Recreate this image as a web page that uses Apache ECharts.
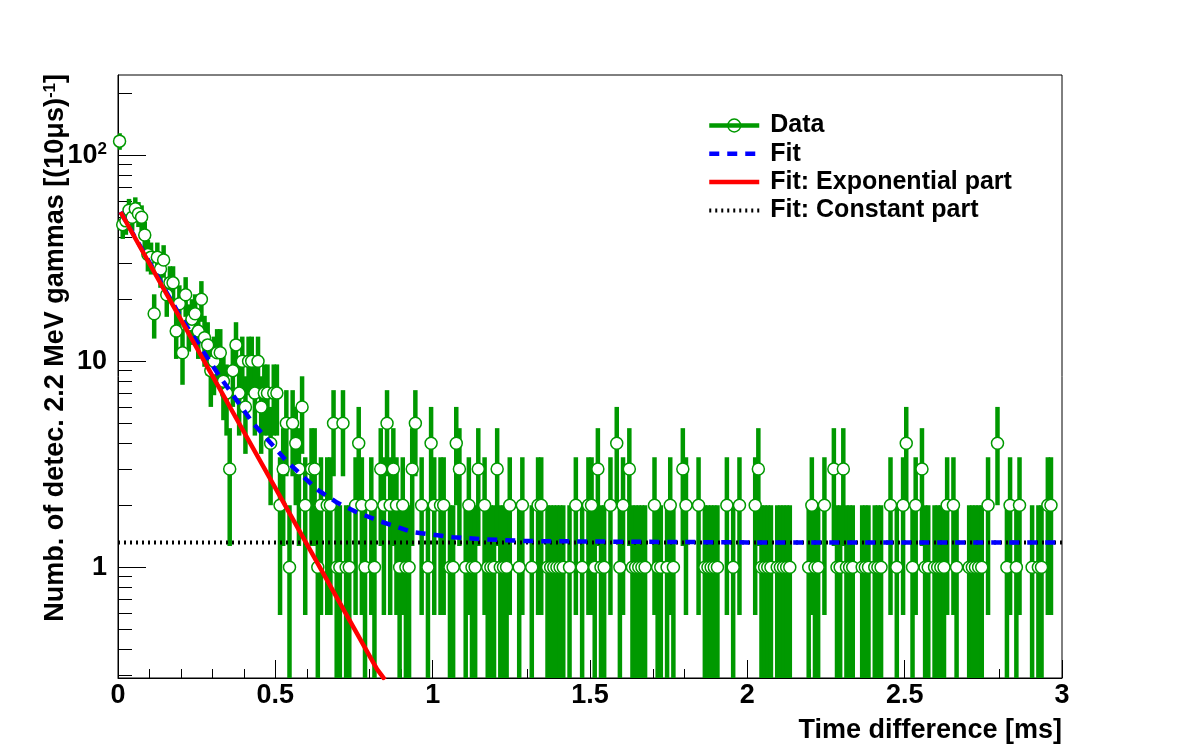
<!DOCTYPE html>
<html>
<head>
<meta charset="utf-8">
<script src="https://cdn.jsdelivr.net/npm/echarts@6/dist/echarts.min.js"></script>
<style>
  html, body { margin: 0; padding: 0; background: #fff; }
  #chart { width: 1182px; height: 755px; }
</style>
</head>
<body>
<div id="chart"></div>
<script>
// Time-difference histogram: counts per 10 us bin from 0 to 3 ms (300 bins).
const binWidth = 0.01;
const counts = [
  117, 46, 48, 54, 50, 55, 52, 50, 41, 33, 32, 17, 32, 28, 31, 21, 24, 24, 14, 19, 11, 21, 15, 16, 17,
  14, 20, 13, 12, 9, 10, 11, 11, 8, 7, 3, 9, 12, 7, 10, 6, 10, 10, 7, 10, 6, 7, 7, 4, 7,
  7, 2, 3, 5, 1, 5, 4, 3, 6, 2, 0, 3, 3, 1, 2, 0, 2, 2, 5, 1, 1, 5, 1, 1, 0,
  2, 4, 2, 1, 0, 2, 1, 0, 3, 2, 5, 2, 3, 2, 1, 2, 1, 1, 3, 5, 0, 2, 0, 1, 4,
  2, 0, 2, 2, 0, 1, 1, 4, 3, 0, 1, 2, 1, 1, 3, 0, 2, 1, 1, 1, 3, 1, 1, 1, 2,
  0, 0, 1, 2, 0, 0, 1, 0, 2, 2, 0, 1, 1, 1, 1, 1, 1, 0, 1, 0, 2, 0, 1, 0, 2,
  2, 1, 3, 1, 1, 0, 2, 0, 4, 1, 2, 0, 3, 1, 1, 1, 1, 1, 0, 0, 2, 1, 1, 0, 1,
  2, 1, 0, 0, 3, 2, 0, 0, 0, 2, 0, 1, 1, 1, 1, 1, 0, 0, 2, 0, 1, 0, 2, 0, 0,
  0, 0, 2, 3, 1, 1, 1, 1, 0, 1, 1, 1, 1, 1, 0, 0, 0, 0, 0, 1, 2, 1, 1, 0, 2,
  0, 0, 3, 1, 1, 3, 1, 1, 1, 0, 0, 1, 1, 1, 0, 1, 1, 1, 0, 0, 2, 0, 1, 0, 2,
  4, 0, 1, 2, 0, 3, 1, 1, 0, 1, 1, 1, 1, 2, 0, 2, 1, 0, 0, 0, 1, 1, 1, 1, 1,
  0, 2, 0, 0, 4, 0, 0, 1, 2, 0, 1, 2, 0, 0, 0, 1, 0, 1, 1, 0, 2, 2, 0, 0, 0
];

// Total fit (exponential + constant).
const fitT = [0.008, 0.1, 0.2, 0.324, 0.429, 0.499, 0.537, 0.632, 0.696, 0.759, 0.833, 0.937, 1.064, 1.15, 1.3, 1.6, 2.0, 3.0];
const fitV = [53, 30.2, 16.3, 8.4, 5.0, 3.8, 3.26, 2.39, 2.06, 1.85, 1.67, 1.48, 1.40, 1.37, 1.34, 1.33, 1.32, 1.32];
// Exponential part (straight on the log scale).
const expT = [0.008, 0.823, 0.848];
const expV = [53, 0.32, 0.285];
// Constant part.
const constT = [0, 3];
const constV = [1.32, 1.32];

const xTicks = [0, 0.5, 1, 1.5, 2, 2.5, 3];
const yMajor = [1, 10, 100];
const yMinor = [0.3, 0.4, 0.5, 0.6, 0.7, 0.8, 0.9, 2, 3, 4, 5, 6, 7, 8, 9,
                20, 30, 40, 50, 60, 70, 80, 90, 200];
const Y_MIN = 0.29, Y_MAX = 245;

const GREEN = '#009900';
const FONT = '"Liberation Sans", Arial, Helvetica, sans-serif';

const zip = (a, b) => a.map((v, i) => [v, b[i]]);
const points = counts
  .map((n, i) => [(i + 0.5) * binWidth, n])
  .filter(p => p[1] > 0);   // empty bins are not drawn on a log axis

function renderErr(params, api) {
  const x = api.value(0), n = api.value(1);
  const e = Math.sqrt(n);
  const lo = api.coord([x, Math.max(n - e, Y_MIN)]);
  const hi = api.coord([x, Math.min(n + e, Y_MAX)]);
  const l = api.coord([x - binWidth / 2, n]);
  const r = api.coord([x + binWidth / 2, n]);
  const st = { stroke: GREEN, lineWidth: 4.5 };
  return {
    type: 'group',
    children: [
      { type: 'line', shape: { x1: lo[0], y1: lo[1], x2: hi[0], y2: hi[1] }, style: st },
      { type: 'line', shape: { x1: l[0], y1: l[1], x2: r[0], y2: r[1] }, style: st }
    ]
  };
}

const labelStyle = { fontFamily: FONT, fontWeight: 'bold', fontSize: 27, color: '#000' };
const noSymbol = { opacity: 0 };

const chart = echarts.init(document.getElementById('chart'), null, { renderer: 'canvas' });
chart.setOption({
  animation: false,
  backgroundColor: '#fff',
  grid: { left: 118, right: 120, top: 75, bottom: 77, show: true, borderColor: '#000', borderWidth: 1 },
  legend: {
    data: [
      { name: 'Data', itemStyle: { color: 'transparent', borderColor: GREEN, borderWidth: 1.5 } },
      { name: 'Fit', itemStyle: noSymbol },
      { name: 'Fit: Exponential part', itemStyle: noSymbol },
      { name: 'Fit: Constant part', itemStyle: noSymbol }
    ],
    orient: 'vertical', left: 707, top: 113, padding: 0,
    itemWidth: 50, itemHeight: 16, itemGap: 3.3,
    selectedMode: false,
    lineStyle: { width: 'inherit' },
    textStyle: { fontFamily: FONT, fontWeight: 'bold', fontSize: 25, color: '#000', lineHeight: 25, padding: [0, 0, 0, 6] }
  },
  xAxis: {
    type: 'value', min: xTicks[0], max: xTicks[xTicks.length - 1], interval: 0.5,
    axisLine: { lineStyle: { color: '#000', width: 1 } },
    axisTick: { inside: true, length: 18, lineStyle: { color: '#000', width: 1 } },
    minorTick: { show: true, splitNumber: 5, length: 9, lineStyle: { color: '#000', width: 1 } },
    axisLabel: Object.assign({ margin: 4 }, labelStyle),
    splitLine: { show: false }
  },
  yAxis: [
    {
      type: 'log', min: Y_MIN, max: Y_MAX, logBase: 10,
      axisLine: { lineStyle: { color: '#000', width: 1 } },
      axisTick: { inside: true, length: 28, customValues: yMajor, lineStyle: { color: '#000', width: 1 } },
      axisLabel: Object.assign({
        margin: 11,
        customValues: yMajor,
        formatter: v => (v >= 100 ? '10{sup|2}' : String(Math.round(v))),
        rich: { sup: { fontFamily: FONT, fontWeight: 'bold', fontSize: 17, color: '#000', verticalAlign: 'top', padding: [0, 0, 12, 0] } }
      }, labelStyle),
      splitLine: { show: false }
    },
    {
      type: 'log', min: Y_MIN, max: Y_MAX, logBase: 10, position: 'left', offset: 0,
      axisLine: { show: false },
      axisTick: { inside: true, length: 14, customValues: yMinor, lineStyle: { color: '#000', width: 1 } },
      axisLabel: { show: false },
      splitLine: { show: false }
    }
  ],
  graphic: [
    {
      type: 'text', x: 1062, y: 731,
      style: { text: 'Time difference [ms]', fontFamily: FONT, fontWeight: 'bold', fontSize: 27, fill: '#000', align: 'right', verticalAlign: 'middle' }
    },
    {
      type: 'text', x: 56, y: 74, rotation: Math.PI / 2,
      style: {
        text: 'Numb. of detec. 2.2 MeV gammas [(10μs){sup|-1}]',
        fontFamily: FONT, fontWeight: 'bold', fontSize: 27, fill: '#000', align: 'right', verticalAlign: 'middle',
        rich: { sup: { fontFamily: FONT, fontWeight: 'bold', fontSize: 17, fill: '#000', verticalAlign: 'top', padding: [0, 0, 12, 0] } }
      }
    }
  ],
  series: [
    {
      name: 'errors', type: 'custom', yAxisIndex: 0, renderItem: renderErr,
      data: points, z: 2, clip: true
    },
    {
      name: 'points', type: 'scatter', yAxisIndex: 0, data: points, z: 3,
      symbol: 'circle', symbolSize: 12,
      itemStyle: { color: '#fff', borderColor: GREEN, borderWidth: 1.5, opacity: 1 }
    },
    {
      name: 'Data', type: 'line', yAxisIndex: 0, data: [], color: GREEN,
      symbol: 'circle', symbolSize: 12,
      lineStyle: { color: GREEN, width: 4.5 },
      itemStyle: { color: '#fff', borderColor: GREEN, borderWidth: 1.5 }
    },
    {
      name: 'Fit: Constant part', type: 'line', yAxisIndex: 0, data: zip(constT, constV), z: 4,
      symbol: 'none', color: '#000', lineStyle: { color: '#000', width: 4, type: [2, 4] }
    },
    {
      name: 'Fit', type: 'line', yAxisIndex: 0, data: zip(fitT, fitV), z: 5,
      symbol: 'none', color: '#0000ff', lineStyle: { color: '#0000ff', width: 4.5, type: [10, 8] }
    },
    {
      name: 'Fit: Exponential part', type: 'line', yAxisIndex: 0, data: zip(expT, expV), z: 6,
      symbol: 'none', color: '#ff0000', lineStyle: { color: '#ff0000', width: 4.5 }
    }
  ]
});
</script>
</body>
</html>
